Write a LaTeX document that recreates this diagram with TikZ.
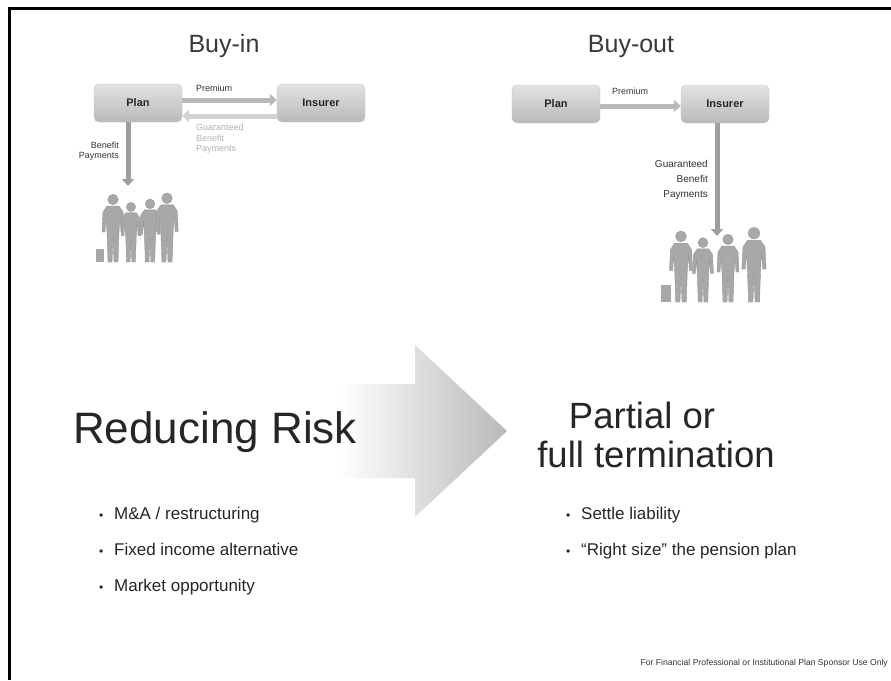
\documentclass[tikz,border=0pt]{standalone}
\usepackage{fontspec}
\setmainfont{Liberation Sans}
\usetikzlibrary{arrows.meta}
\tikzset{
  fs/.style={font=\fontsize{#1}{#1}\selectfont},
  party/.style={rounded corners=5pt, draw=gray!45, top color=gray!22, bottom color=gray!55,
    minimum width=88pt, minimum height=38pt, inner sep=0pt,
    font=\fontsize{11}{13}\selectfont\bfseries, text=black!85},
  flow/.style={line width=5pt, draw=gray!55, -{Triangle[length=7pt,width=12pt]}},
  flowlight/.style={flow, draw=gray!35},
  payout/.style={line width=5pt, draw=gray!75, -{Triangle[length=7pt,width=12pt]}},
  small/.style={font=\fontsize{9}{10.5}\selectfont, text=black!80, inner sep=0pt},
  faint/.style={font=\fontsize{9}{10.5}\selectfont, text=gray!60, inner sep=0pt},
  title/.style={font=\fontsize{25}{28}\selectfont, text=gray!45!black, inner sep=0pt},
  heading/.style={font=\fontsize{36.5}{39}\selectfont, inner sep=0pt, text=black!85},
  person/.pic={
    \fill[gray!68, draw=gray!82, line width=0.4pt]
      (-6,-56) -- (6,-56) -- (10,-50) -- (11,-30) -- (8,-30) -- (7,-45) -- (6,-30)
      -- (5,0) -- (1,0) -- (0,-26) -- (-1,0) -- (-5,0) -- (-6,-30) -- (-7,-45)
      -- (-8,-30) -- (-11,-30) -- (-10,-50) -- cycle;
    \fill[gray!68, draw=gray!82, line width=0.4pt] (0,-62.5) circle (5.2);
  },
}
\begin{document}
\begin{tikzpicture}[x=1pt, y=-1pt]
\useasboundingbox (0,0) rectangle (891,680);
\fill[white] (0,0) rectangle (891,680);

% frame (top and left edges only)
\draw[line width=3pt] (9,680) -- (9,8.5) -- (891,8.5);

% ---------- buy-in ----------
\node[title] (tA) at (224,46) {Buy-in};
\node[party] (pA) at (138,103) {Plan};
\node[party] (iA) at (321,103) {Insurer};
\draw[flow] ([yshift=3pt]pA.east) -- ([yshift=3pt]iA.west);
\draw[flowlight] ([yshift=-13pt]iA.west) -- ([yshift=-13pt]pA.east);
\node[small, anchor=west] (prA) at (196,88) {Premium};
\node[faint, anchor=north west, align=left] (gA) at (196,124) {Guaranteed\\Benefit\\Payments};
\node[small, anchor=east, align=right] (bA) at (119,151) {Benefit\\Payments};
\coordinate (pplA) at (128,186);
\draw[payout] (pA.south -| pplA) -- (pplA);
\begin{scope}
  \fill[gray!68] (96,249) rectangle (104,262);
  \pic[scale=1.0] at (113,262) {person};
  \pic[scale=0.88] at (131,262) {person};
  \pic[scale=0.93] at (150,262) {person};
  \pic[scale=1.02] at (167,262) {person};
\end{scope}

% ---------- buy-out ----------
\node[title] (tB) at (631,46) {Buy-out};
\node[party] (pB) at (556,104) {Plan};
\node[party] (iB) at (725,104) {Insurer};
\draw[flow] ([yshift=-2pt]pB.east) -- ([yshift=-2pt]iB.west);
\node[small, anchor=west] (prB) at (612,91) {Premium};
\node[font=\fontsize{10}{15}\selectfont, text=black!80, inner sep=0pt, anchor=east, align=right] (gB) at (708,180) {Guaranteed\\Benefit\\Payments};
\coordinate (pplB) at (717,236);
\draw[payout] (iB.south -| pplB) -- (pplB);
\begin{scope}
  \fill[gray!68] (661,285) rectangle (671,302);
  \pic[scale=1.05] at (681,302) {person};
  \pic[scale=0.95] at (703,302) {person};
  \pic[scale=1.0] at (728,302) {person};
  \pic[scale=1.1] at (754,302) {person};
\end{scope}

% ---------- transition arrow ----------
\shade[left color=white, right color=gray!55]
  (340,384) -- (415,384) -- (415,345) -- (507,431) -- (415,517) -- (415,478) -- (340,478) -- cycle;

% ---------- headings ----------
\node[fs=44, anchor=base west, inner sep=0pt, text=black!85] (rr) at (73,443) {Reducing Risk};
\node[heading, anchor=base] (pf1) at (642,428) {Partial or};
\node[heading, anchor=base] (pf2) at (656,467) {full termination};

% ---------- bullet lists ----------
\foreach \t [count=\i] in {M\&A / restructuring, Fixed income alternative, Market opportunity}
  \node[fs=17, anchor=base west, inner sep=0pt, text=black!85] (l\i) at (99,{483+36*\i}) {\makebox[15pt][l]{\fontsize{12}{12}\selectfont•}\t};
\foreach \t [count=\i] in {Settle liability, ``Right size'' the pension plan}
  \node[fs=17, anchor=base west, inner sep=0pt, text=black!85] (r\i) at (566,{483+36*\i}) {\makebox[15pt][l]{\fontsize{12}{12}\selectfont•}\t};

% ---------- footer ----------
\node[fs=8.6, anchor=base east, inner sep=0pt, text=black!80] (ft) at (888,665) {For Financial Professional or Institutional Plan Sponsor Use Only};
\end{tikzpicture}
\end{document}
